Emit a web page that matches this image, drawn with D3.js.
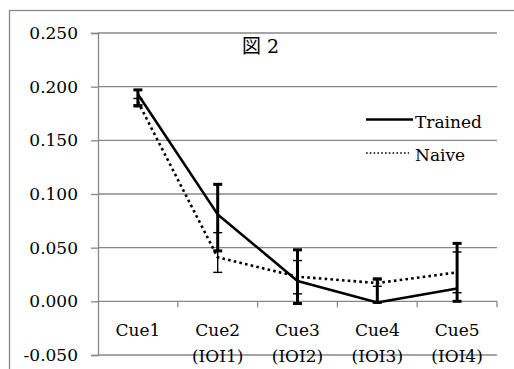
<!DOCTYPE html>
<html>
<head>
<meta charset="utf-8">
<script src="https://cdn.jsdelivr.net/npm/d3@7"></script>
<style>
  html, body { margin: 0; padding: 0; background: #fff; }
  svg { display: block; }
  text { font-family: "DejaVu Serif", "Noto Sans CJK JP", serif; fill: #000; }
</style>
</head>
<body>
<svg id="chart" width="514" height="369"></svg>
<script>
// ---- data ----
const categories = [["Cue1"], ["Cue2", "(IOI1)"], ["Cue3", "(IOI2)"], ["Cue4", "(IOI3)"], ["Cue5", "(IOI4)"]];
const trained = [0.193, 0.081, 0.019, -0.001, 0.012];
const trainedLow = [0.182, 0.047, -0.002, -0.001, 0.000];
const trainedHigh = [0.197, 0.109, 0.048, 0.021, 0.054];
const naive = [0.186, 0.041, 0.023, 0.017, 0.027];
const naiveLow = [0.183, 0.027, 0.007, 0.014, 0.008];
const naiveHigh = [0.189, 0.064, 0.038, 0.020, 0.046];
const yTicks = [-0.05, 0, 0.05, 0.1, 0.15, 0.2, 0.25];
const title = "図 2";
const seriesNames = ["Trained", "Naive"];

// ---- layout ----
const svg = d3.select("#chart");
const mLeft = 98, mRight = 497, mTop = 33, mBottom = 355;
const gridColor = "#878787";

const x = d3.scaleBand().domain(d3.range(categories.length)).range([mLeft, mRight]);
const y = d3.scaleLinear().domain([-0.05, 0.25]).range([mBottom, mTop]);

// outer frame (cut off at right/bottom)
svg.append("rect").attr("x", 9.5).attr("y", 10.5).attr("width", 600).attr("height", 600)
  .attr("fill", "none").attr("stroke", gridColor).attr("stroke-width", 1.3);

// gridlines
svg.append("g").selectAll("line").data(yTicks).join("line")
  .attr("x1", mLeft).attr("x2", mRight)
  .attr("y1", d => y(d)).attr("y2", d => y(d))
  .attr("stroke", gridColor).attr("stroke-width", 1.3);

// y axis
const fmt = d3.format(".3f");
const yAxis = d3.axisLeft(y).tickValues(yTicks).tickSize(7).tickPadding(13)
  .tickFormat(d => d < 0 ? "-" + fmt(-d) : fmt(d));
const gy = svg.append("g").attr("transform", `translate(${mLeft},0)`).call(yAxis);
gy.select(".domain").attr("stroke", gridColor).attr("stroke-width", 1.3);
gy.selectAll(".tick line").attr("stroke", gridColor).attr("stroke-width", 1.3);
gy.selectAll(".tick text").attr("font-size", 17).attr("font-family", "DejaVu Serif").attr("fill", "#000");

// x axis at zero with ticks at boundaries
const zeroY = y(0);
const boundaries = d3.range(1, categories.length + 1).map(i => x(i - 1) + x.bandwidth());
svg.append("g").selectAll("line").data(boundaries).join("line")
  .attr("x1", d => d).attr("x2", d => d)
  .attr("y1", zeroY).attr("y2", zeroY + 6)
  .attr("stroke", gridColor).attr("stroke-width", 1.3);

// category labels
const cx = i => x(i) + x.bandwidth() / 2;
const lab = svg.append("g").selectAll("text").data(categories).join("text")
  .attr("text-anchor", "middle").attr("font-size", 17)
  .attr("x", (d, i) => cx(i)).attr("y", 336);
lab.each(function(d, i) {
  d3.select(this).selectAll("tspan").data(d).join("tspan")
    .attr("x", cx(i))
    .attr("dy", (t, j) => j === 0 ? 0 : 26)
    .text(t => t);
});

// lines
const line = d3.line().x((d, i) => cx(i)).y(d => y(d));
svg.append("path").datum(naive).attr("d", line).attr("fill", "none")
  .attr("stroke", "#000").attr("stroke-width", 2.6).attr("stroke-dasharray", "2.6,3.2");
svg.append("path").datum(trained).attr("d", line).attr("fill", "none")
  .attr("stroke", "#000").attr("stroke-width", 2.6).attr("stroke-linejoin", "round");

// error bars
function errBars(lows, highs, w, capW) {
  const g = svg.append("g").attr("stroke", "#000");
  lows.forEach((lo, i) => {
    const hi = highs[i];
    g.append("line").attr("x1", cx(i)).attr("x2", cx(i)).attr("y1", y(lo)).attr("y2", y(hi)).attr("stroke-width", w);
    [lo, hi].forEach(v => {
      g.append("line").attr("x1", cx(i) - capW / 2).attr("x2", cx(i) + capW / 2)
        .attr("y1", y(v)).attr("y2", y(v)).attr("stroke-width", w);
    });
  });
}
errBars(naiveLow, naiveHigh, 1.4, 9);
errBars(trainedLow, trainedHigh, 3, 9);

// title
svg.append("text").attr("x", 242).attr("y", 53).attr("font-size", 19).text(title);

// legend
svg.append("line").attr("x1", 366).attr("x2", 413).attr("y1", 119.5).attr("y2", 119.5)
  .attr("stroke", "#000").attr("stroke-width", 2.6);
svg.append("line").attr("x1", 366).attr("x2", 409).attr("y1", 153).attr("y2", 153)
  .attr("stroke", "#000").attr("stroke-width", 1.6).attr("stroke-dasharray", "1.6,2.2");
svg.append("text").attr("x", 415).attr("y", 128).attr("font-size", 17).text(seriesNames[0]);
svg.append("text").attr("x", 415).attr("y", 161).attr("font-size", 17).text(seriesNames[1]);
</script>
</body>
</html>
